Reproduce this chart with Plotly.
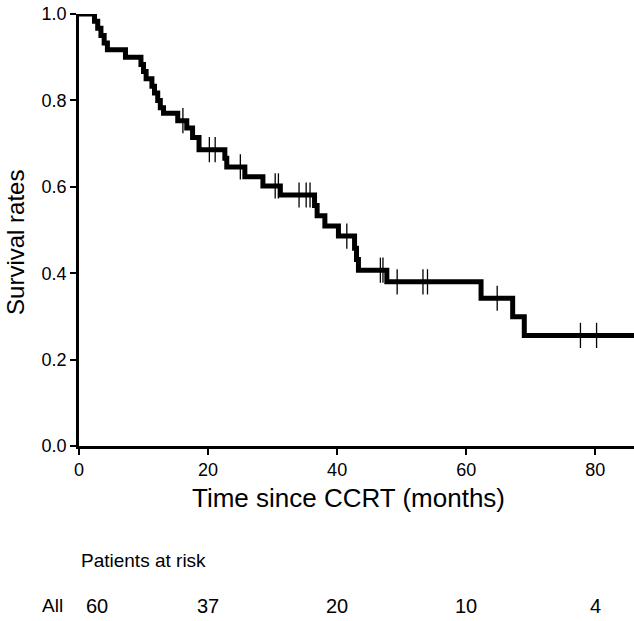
import numpy as np
import plotly.graph_objects as go

# Kaplan-Meier step estimates (time in months, survival after each event)
event_times = [0, 2.4, 2.9, 3.4, 3.9, 4.4, 7.2, 9.6, 10.0, 10.4, 11.3, 11.7, 12.2, 12.6, 13.1,
               15.3, 16.7, 17.6, 18.6, 22.6, 22.9, 25.7, 28.5, 31.2, 36.5, 36.9, 38.1, 40.2,
               42.7, 43.0, 43.3, 47.7, 62.3, 67.2, 69.0, 86]
survival = [1.0, 0.983, 0.967, 0.950, 0.933, 0.917, 0.900, 0.883, 0.867, 0.850, 0.833, 0.817,
            0.800, 0.783, 0.770, 0.753, 0.736, 0.714, 0.686, 0.666, 0.646, 0.623, 0.602, 0.581,
            0.557, 0.533, 0.509, 0.486, 0.458, 0.432, 0.407, 0.380, 0.342, 0.299, 0.256, 0.256]
censor_times = [16.1, 20.2, 21.1, 25.0, 30.4, 30.9, 34.1, 35.2, 35.8, 41.5, 46.7, 47.1,
                49.3, 53.3, 54.0, 64.8, 77.7, 80.2]

risk_times = [0, 20, 40, 60, 80]
risk_counts = [60, 37, 20, 10, 4]
x_ticks = [0, 20, 40, 60, 80]
y_ticks = [0.0, 0.2, 0.4, 0.6, 0.8, 1.0]

et = np.array(event_times)
sv = np.array(survival)
idx = np.searchsorted(et, np.array(censor_times), side="right") - 1
censor_surv = sv[idx]

FONT = "Liberation Sans, Arial, Helvetica, sans-serif"

fig = go.Figure()
fig.add_trace(go.Scatter(x=event_times, y=survival, mode="lines", line_shape="hv",
                         line=dict(color="black", width=5), cliponaxis=False,
                         hoverinfo="skip", showlegend=False))
fig.add_trace(go.Scatter(x=censor_times, y=censor_surv, mode="markers",
                         marker=dict(symbol="line-ns", size=18, color="black",
                                     line=dict(color="black", width=1.3)),
                         cliponaxis=False, hoverinfo="skip", showlegend=False))

annotations = [
    dict(x=-0.1135, xref="paper", xanchor="center", y=0.47, yref="paper", yanchor="middle",
         text="Survival rates", textangle=-90, showarrow=False,
         font=dict(family=FONT, size=24, color="black")),
    dict(x=0.485, xref="paper", xanchor="center", y=-0.121, yref="paper", yanchor="middle",
         text="Time since CCRT (months)", showarrow=False,
         font=dict(family=FONT, size=26, color="black")),
    dict(x=0, xref="x", xanchor="left", y=-0.264, yref="paper", yanchor="middle",
         text="Patients at risk", showarrow=False, font=dict(family=FONT, size=19, color="black")),
    dict(x=-0.047, xref="paper", xanchor="center", y=-0.370, yref="paper", yanchor="middle",
         text="All", showarrow=False, font=dict(family=FONT, size=19, color="black")),
]
for t, n in zip(risk_times, risk_counts):
    annotations.append(dict(x=t, xref="x", xanchor="center", xshift=(18 if t == 0 else 0),
                            y=-0.370, yref="paper", yanchor="middle", text=str(n),
                            showarrow=False, font=dict(family=FONT, size=20, color="black")))

fig.update_layout(
    width=634, height=621,
    margin=dict(l=79, r=0, t=14, b=175),
    paper_bgcolor="white", plot_bgcolor="white",
    font=dict(family=FONT, color="black"),
    annotations=annotations,
    hovermode=False,
    xaxis=dict(range=[0, 86], tickvals=x_ticks, ticktext=[str(v) for v in x_ticks],
               showgrid=False, zeroline=False, showline=True, linecolor="black", linewidth=2.5,
               ticks="outside", ticklen=6, tickwidth=2, tickcolor="black",
               tickfont=dict(family=FONT, size=18, color="black")),
    yaxis=dict(range=[0, 1], tickvals=y_ticks, ticktext=[f"{v:.1f}" for v in y_ticks],
               showgrid=False, zeroline=False, showline=True, linecolor="black", linewidth=2.5,
               ticks="outside", ticklen=6, tickwidth=2, tickcolor="black",
               tickfont=dict(family=FONT, size=18, color="black")),
)

fig.write_html("out.html", config={"displayModeBar": False},
               post_script="document.body.style.margin='0';")
